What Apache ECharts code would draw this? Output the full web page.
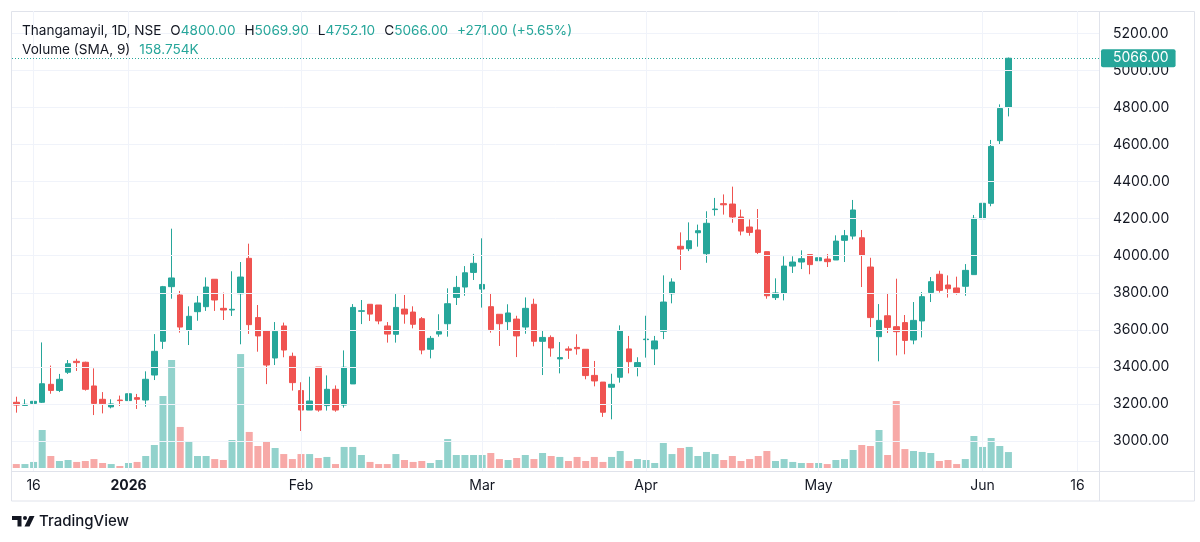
<!DOCTYPE html>
<html><head><meta charset="utf-8">
<script src="https://cdn.jsdelivr.net/npm/echarts@6/dist/echarts.min.js"></script>
<style>html,body{margin:0;padding:0;background:#fff}#c{width:1200px;height:542px}</style>
</head><body><div id="c"></div>
<script>
// ---- data ----
const dates = [
'2025-12-12','2025-12-15','2025-12-16','2025-12-17','2025-12-18','2025-12-19','2025-12-22','2025-12-23','2025-12-24','2025-12-26','2025-12-29','2025-12-30','2025-12-31',
'2026-01-01','2026-01-02','2026-01-05','2026-01-06','2026-01-07','2026-01-08','2026-01-09','2026-01-12','2026-01-13','2026-01-14','2026-01-16','2026-01-19','2026-01-20','2026-01-21','2026-01-22','2026-01-23','2026-01-27','2026-01-28','2026-01-29','2026-01-30',
'2026-02-01','2026-02-02','2026-02-03','2026-02-04','2026-02-05','2026-02-06','2026-02-09','2026-02-10','2026-02-11','2026-02-12','2026-02-13','2026-02-16','2026-02-17','2026-02-18','2026-02-19','2026-02-20','2026-02-23','2026-02-24','2026-02-25','2026-02-26','2026-02-27',
'2026-03-02','2026-03-04','2026-03-05','2026-03-06','2026-03-09','2026-03-10','2026-03-11','2026-03-12','2026-03-13','2026-03-16','2026-03-17','2026-03-18','2026-03-19','2026-03-20','2026-03-23','2026-03-24','2026-03-25','2026-03-27','2026-03-30',
'2026-04-01','2026-04-02','2026-04-06','2026-04-07','2026-04-08','2026-04-09','2026-04-10','2026-04-13','2026-04-15','2026-04-16','2026-04-17','2026-04-20','2026-04-21','2026-04-22','2026-04-23','2026-04-24','2026-04-27','2026-04-28','2026-04-29','2026-04-30',
'2026-05-04','2026-05-05','2026-05-06','2026-05-07','2026-05-08','2026-05-11','2026-05-12','2026-05-13','2026-05-14','2026-05-15','2026-05-18','2026-05-19','2026-05-20','2026-05-21','2026-05-22','2026-05-25','2026-05-26','2026-05-27','2026-05-29',
'2026-06-01','2026-06-02','2026-06-03','2026-06-04'
];
const futureDates = ['2026-06-05','2026-06-08','2026-06-09','2026-06-10','2026-06-11','2026-06-12','2026-06-15','2026-06-16','2026-06-17','2026-06-18'];

const opens = [3209,3192,3203,3209,3306,3273,3371,3430,3425,3297,3225,3184,3221,3218,3234,3221,3356,3538,3833,3788,3597,3698,3725,3873,3716,3707,3795,3986,3666,3594,3448,3621,3457,3272,3167,3399,3191,3279,3194,3308,3700,3738,3734,3621,3576,3712,3696,3660,3495,3577,3633,3775,3831,3910,3820,3725,3684,3644,3658,3615,3738,3538,3559,3443,3497,3505,3495,3354,3318,3290,3344,3497,3398,3547,3497,3592,3795,4051,4038,4124,4011,4249,4281,4279,4209,4155,4139,4022,3774,3797,3944,3966,4006,3973,3982,3977,4083,4106,4097,3939,3563,3676,3617,3639,3545,3648,3802,3900,3842,3826,3835,3898,4200,4283,4621,4800];
const highs = [3239,3225,3259,3532,3407,3362,3437,3444,3428,3392,3264,3225,3245,3281,3254,3376,3577,3837,4146,3810,3727,3783,3883,3873,3801,3916,3966,4065,3734,3599,3642,3639,3477,3317,3347,3399,3354,3300,3489,3739,3761,3738,3734,3642,3793,3788,3727,3669,3567,3684,3824,3891,3944,4010,4094,3799,3684,3738,3676,3775,3768,3595,3570,3534,3511,3576,3495,3432,3318,3363,3624,3567,3452,3676,3567,3894,3878,4126,4180,4168,4240,4312,4331,4373,4249,4196,4252,4022,3878,3997,3997,4029,4006,4042,4009,4110,4139,4301,4139,3989,3739,3799,3876,3680,3750,3804,3885,3919,3894,3887,3955,4220,4333,4625,4817,5069.9];
const lows = [3153,3189,3110,3205,3255,3264,3362,3378,3272,3140,3149,3176,3189,3191,3173,3185,3329,3497,3768,3585,3518,3649,3702,3702,3653,3675,3522,3578,3482,3307,3410,3452,3272,3054,3167,3158,3164,3158,3180,3308,3631,3648,3630,3531,3531,3633,3608,3468,3446,3563,3563,3734,3784,3869,3720,3585,3513,3599,3453,3579,3511,3356,3455,3365,3443,3466,3333,3295,3130,3117,3315,3365,3349,3450,3410,3550,3743,3923,4025,4049,3962,4216,4222,4178,4110,4108,4009,3768,3761,3759,3907,3928,3900,3926,3939,3977,3966,4088,3831,3615,3430,3583,3462,3468,3522,3559,3750,3801,3774,3790,3784,3898,4130,4267,4601,4752.1];
const closes = [3194,3198,3214,3309,3273,3333,3417,3423,3279,3203,3201,3200,3218,3255,3225,3333,3484,3833,3880,3615,3673,3745,3831,3761,3707,3711,3885,3628,3567,3410,3592,3491,3315,3167,3216,3167,3279,3167,3398,3721,3703,3685,3648,3577,3721,3685,3630,3491,3554,3590,3741,3829,3908,3959,3845,3601,3633,3691,3567,3716,3538,3559,3502,3450,3490,3498,3353,3324,3155,3306,3594,3428,3423,3550,3540,3750,3858,4036,4081,4135,4175,4252,4275,4209,4133,4126,4018,3784,3799,3944,3966,3984,3952,3989,3968,4079,4108,4247,4004,3666,3651,3613,3590,3543,3651,3779,3860,3813,3822,3801,3921,4202,4283,4590,4795,5066];
// volume in thousands
const volumes = [38,38,58,365,115,67,77,58,67,86,48,38,19,48,58,115,221,691,1037,394,250,115,115,86,77,269,1094,346,211,259,192,134,86,134,134,96,106,38,202,202,125,58,38,38,134,77,58,67,48,77,278,125,125,125,125,144,86,77,96,125,86,144,115,106,67,106,67,106,58,106,163,67,86,77,48,240,134,192,202,115,154,134,77,115,67,86,115,163,67,86,58,48,48,48,38,77,86,173,221,211,365,125,643,182,163,154,144,67,77,38,86,307,202,288,211,153];
const volumeSma = 158.754;
const priceTicks = [3000,3200,3400,3600,3800,4000,4200,4400,4600,4800,5000,5200];
const timeTickIdx = [2,13,33,54,73,93,112,123];
const timeTickText = ['16','2026','Feb','Mar','Apr','May','Jun','16'];
const symbolName = 'Thangamayil, 1D, NSE';

// ---- build ----
const UP = '#26a69a', DOWN = '#ef5350', TXT = '#131722', GRID = '#f0f3fa', BORDER = '#e0e3eb';
const FONT = "Inter, 'Noto Sans', sans-serif";
const TFS = 13.6;
const allDates = dates.concat(futureDates);
const n = opens.length;
const candleData = opens.map((o, i) => [o, closes[i], lows[i], highs[i]]);
const volData = volumes.map((v, i) => ({value: v, itemStyle: {color: closes[i] >= opens[i] ? 'rgba(38,166,154,0.5)' : 'rgba(239,83,80,0.5)'}}));
const lastO = opens[n-1], lastH = highs[n-1], lastL = lows[n-1], lastC = closes[n-1];
const chg = lastC - closes[n-2];
const chgPct = chg / closes[n-2] * 100;
const chgTxt = (chg >= 0 ? '+' : '') + chg.toFixed(2) + ' (' + (chg >= 0 ? '+' : '') + chgPct.toFixed(2) + '%)';

const gridLines = [];
timeTickIdx.forEach(i => gridLines.push({xAxis: allDates[i]}));
priceTicks.forEach(v => gridLines.push({yAxis: v}));

const chart = echarts.init(document.getElementById('c'), null, {renderer: 'canvas'});
chart.setOption({
  animation: false,
  backgroundColor: '#ffffff',
  textStyle: {fontFamily: FONT},
  title: [{
    left: 22, top: 22, padding: 0,
    text: '{n|' + symbolName + '}{k|O}{v|' + lastO.toFixed(2) + '}{k|H}{v|' + lastH.toFixed(2) + '}{k|L}{v|' + lastL.toFixed(2) + '}{k|C}{v|' + lastC.toFixed(2) + '}{c|' + chgTxt + '}',
    textStyle: {fontSize: TFS, fontWeight: 'normal', fontFamily: FONT, lineHeight: 17,
      rich: {
        n: {color: TXT, fontSize: TFS, fontFamily: FONT, lineHeight: 17},
        k: {color: TXT, fontSize: TFS, fontFamily: FONT, lineHeight: 17, padding: [0, 0, 0, 9]},
        v: {color: UP, fontSize: TFS, fontFamily: FONT, lineHeight: 17},
        c: {color: UP, fontSize: TFS, fontFamily: FONT, lineHeight: 17, padding: [0, 0, 0, 9]}
      }}
  }, {
    left: 22, top: 41, padding: 0,
    text: '{n|Volume (SMA, 9)}{c|' + volumeSma.toFixed(3) + 'K}',
    textStyle: {fontSize: TFS, fontWeight: 'normal', fontFamily: FONT, lineHeight: 17,
      rich: {
        n: {color: TXT, fontSize: TFS, fontFamily: FONT, lineHeight: 17},
        c: {color: UP, fontSize: TFS, fontFamily: FONT, lineHeight: 17, padding: [0, 0, 0, 9]}
      }}
  }],
  grid: [
    {left: 12, right: 101, top: 11, height: 460, containLabel: false},
    {left: 12, right: 101, top: 348, height: 120, containLabel: false}
  ],
  xAxis: [{
    type: 'category', data: allDates, gridIndex: 0, boundaryGap: true,
    axisLine: {show: false}, axisTick: {show: false}, splitLine: {show: false},
    axisLabel: {
      interval: (idx) => timeTickIdx.indexOf(idx) >= 0,
      formatter: (val, idx) => {
        const k = timeTickIdx.indexOf(idx);
        const t = k >= 0 ? timeTickText[k] : '';
        return t === '2026' ? '{b|' + t + '}' : t;
      },
      color: TXT, fontSize: 14, fontFamily: FONT, margin: 8,
      rich: {b: {fontWeight: 'bold', fontSize: 14, color: TXT, fontFamily: FONT}}
    }
  }, {
    type: 'category', data: allDates, gridIndex: 1, boundaryGap: true, show: false
  }],
  yAxis: [{
    type: 'value', gridIndex: 0, position: 'right', min: 2838, max: 5321, scale: true,
    axisLine: {show: false}, splitLine: {show: false},
    axisTick: {show: false, customValues: priceTicks},
    axisLabel: {customValues: priceTicks, formatter: v => v.toFixed(2), color: TXT, fontSize: 14, fontFamily: FONT, margin: 14}
  }, {
    type: 'value', gridIndex: 1, min: 0, max: 1152, show: false
  }],
  series: [{
    type: 'line', xAxisIndex: 0, yAxisIndex: 0, data: allDates.map(() => null), z: 0, silent: true,
    showSymbol: false,
    markLine: {silent: true, symbol: ['none', 'none'], animation: false,
      label: {show: false}, lineStyle: {color: GRID, width: 1, type: 'solid'}, data: gridLines}
  }, {
    type: 'bar', xAxisIndex: 1, yAxisIndex: 1, data: volData, barWidth: 7, z: 1, silent: true,
    markLine: {silent: true, symbol: ['none', 'none'], animation: false,
      data: [{yAxis: volumeSma, lineStyle: {opacity: 0},
        label: {show: true, position: 'end', distance: 2, formatter: volumeSma.toFixed(3) + 'K',
          backgroundColor: UP, color: '#fff', fontSize: 14, fontFamily: FONT, lineHeight: 14, padding: [2, 7, 2, 12], borderRadius: 2}}]}
  }, {
    type: 'candlestick', xAxisIndex: 0, yAxisIndex: 0, data: candleData, barWidth: 6, z: 3,
    itemStyle: {color: UP, color0: DOWN, borderColor: UP, borderColor0: DOWN, borderWidth: 1},
    markLine: {silent: true, symbol: ['none', 'none'], animation: false,
      data: [{yAxis: lastC, lineStyle: {color: UP, width: 1, type: [1, 2]},
        label: {show: true, position: 'end', distance: 2, formatter: lastC.toFixed(2),
          backgroundColor: UP, color: '#fff', fontSize: 14, fontFamily: FONT, lineHeight: 14, padding: [2, 7, 2, 12], borderRadius: 2}}]}
  }],
  graphic: [
    {type: 'rect', silent: true, shape: {x: 11.5, y: 11.5, width: 1183, height: 489.5}, style: {fill: 'none', stroke: BORDER, lineWidth: 1}},
    {type: 'line', silent: true, shape: {x1: 1099.5, y1: 11, x2: 1099.5, y2: 501}, style: {stroke: BORDER, lineWidth: 1}},
    {type: 'line', silent: true, shape: {x1: 11, y1: 471.5, x2: 1195, y2: 471.5}, style: {stroke: BORDER, lineWidth: 1}},
    {type: 'polygon', silent: true, shape: {points: [[12, 516], [21.5, 516], [21.5, 526.5], [17.5, 526.5], [17.5, 520], [12, 520]]}, style: {fill: TXT}},
    {type: 'circle', silent: true, shape: {cx: 25, cy: 518, r: 2}, style: {fill: TXT}},
    {type: 'polygon', silent: true, shape: {points: [[29.5, 516], [34.5, 516], [29.5, 526.5], [24.5, 526.5]]}, style: {fill: TXT}},
    {type: 'text', silent: true, style: {x: 39, y: 521.5, text: 'TradingView', fill: TXT, font: "500 15px " + FONT, verticalAlign: 'middle'}}
  ]
});
</script></body></html>
